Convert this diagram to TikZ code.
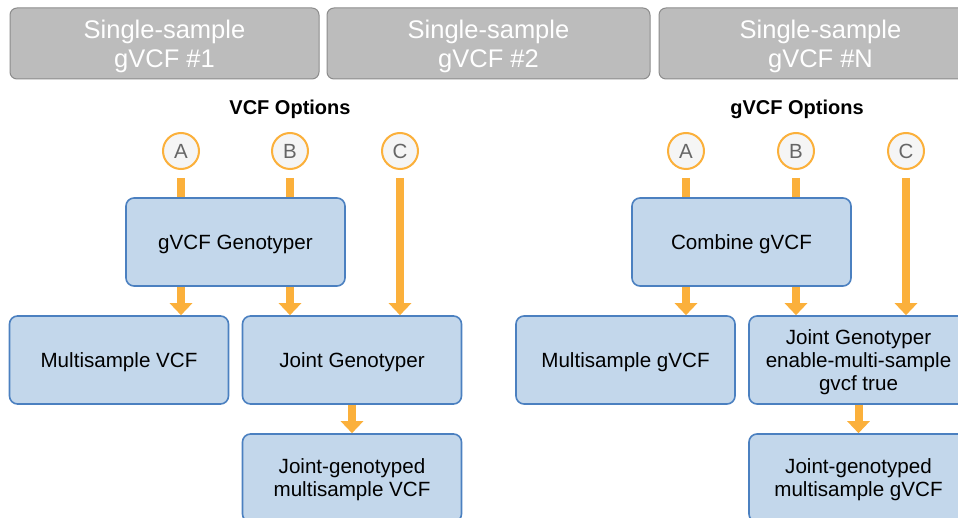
\documentclass[tikz,border=0pt]{standalone}
\usepackage{fontspec}
\setmainfont{Liberation Sans}
\usetikzlibrary{arrows.meta}
\definecolor{boxblue}{HTML}{C3D7EB}
\definecolor{edgeblue}{HTML}{4B80C0}
\definecolor{flow}{HTML}{FBB03B}
\definecolor{greybox}{HTML}{BCBCBC}
\definecolor{greyedge}{HTML}{8C8C8C}
\begin{document}
\begin{tikzpicture}[x=1pt,y=-1pt,
    sample/.style={draw=greyedge, fill=greybox, rounded corners=7pt, line width=1pt,
      minimum width=309pt, minimum height=71pt, text=white, align=center, text depth=0pt,
      font=\fontsize{25.5}{29}\selectfont},
    proc/.style={draw=edgeblue, fill=boxblue, rounded corners=8pt, line width=1.6pt,
      minimum width=219pt, minimum height=88pt, align=center, text depth=0pt,
      font=\fontsize{20.6}{23}\selectfont},
    opt/.style={circle, draw=flow, fill=black!4, line width=2pt, minimum size=36pt,
      inner sep=0pt, text=black!60, font=\fontsize{20.5}{20}\selectfont},
    title/.style={text depth=0pt, font=\bfseries\fontsize{20}{20}\selectfont},
    stem/.style={draw=flow, line width=8pt},
    flowto/.style={stem, -{Triangle[width=22pt,length=12pt]}}]
    \path[use as bounding box, clip] (0,0) rectangle (958,518);

    % input gVCFs
    \node[sample] (sample1) at (164.5,43.5) {Single-sample\\gVCF \#1};
    \node[sample, minimum width=323pt] (sample2) at (488.5,43.5) {Single-sample\\gVCF \#2};
    \node[sample, minimum width=323pt] (sampleN) at (820.5,43.5) {Single-sample\\gVCF \#N};

    % VCF options
    \node[title] (vcfopt) at (290,107) {VCF Options};
    \node[opt] (vA) at (181,151) {A};
    \node[opt] (vB) at (290,151) {B};
    \node[opt] (vC) at (400,151) {C};
    \node[proc] (gvcfgeno) at (235.5,242) {gVCF Genotyper};
    \node[proc] (multivcf) at (119,360) {Multisample VCF};
    \node[proc] (jointgeno) at (352,360) {Joint Genotyper};
    \node[proc] (jointvcf) at (352,478) {Joint-genotyped\\multisample VCF};

    % gVCF options
    \node[title] (gvcfopt) at (797,107) {gVCF Options};
    \node[opt] (gA) at (686,151) {A};
    \node[opt] (gB) at (796,151) {B};
    \node[opt] (gC) at (906,151) {C};
    \node[proc] (combine) at (741.5,242) {Combine gVCF};
    \node[proc] (multigvcf) at (625.5,360) {Multisample gVCF};
    \node[proc] (jointgenog) at (858.5,360) {Joint Genotyper\\enable-multi-sample\\gvcf true};
    \node[proc] (jointgvcf) at (858.5,478) {Joint-genotyped\\multisample gVCF};

    \path[stem] ([yshift=-8pt]vA.south) -- (vA |- gvcfgeno.north);
    \path[stem] ([yshift=-8pt]vB.south) -- (vB |- gvcfgeno.north);
    \path[flowto] (vA |- gvcfgeno.south) -- (vA |- multivcf.north);
    \path[flowto] (vB |- gvcfgeno.south) -- (vB |- jointgeno.north);
    \path[flowto] ([yshift=-8pt]vC.south) -- (vC |- jointgeno.north);
    \path[flowto] (jointgeno) -- (jointvcf);

    \path[stem] ([yshift=-8pt]gA.south) -- (gA |- combine.north);
    \path[stem] ([yshift=-8pt]gB.south) -- (gB |- combine.north);
    \path[flowto] (gA |- combine.south) -- (gA |- multigvcf.north);
    \path[flowto] (gB |- combine.south) -- (gB |- jointgenog.north);
    \path[flowto] ([yshift=-8pt]gC.south) -- (gC |- jointgenog.north);
    \path[flowto] (jointgenog) -- (jointgvcf);
\end{tikzpicture}
\end{document}
